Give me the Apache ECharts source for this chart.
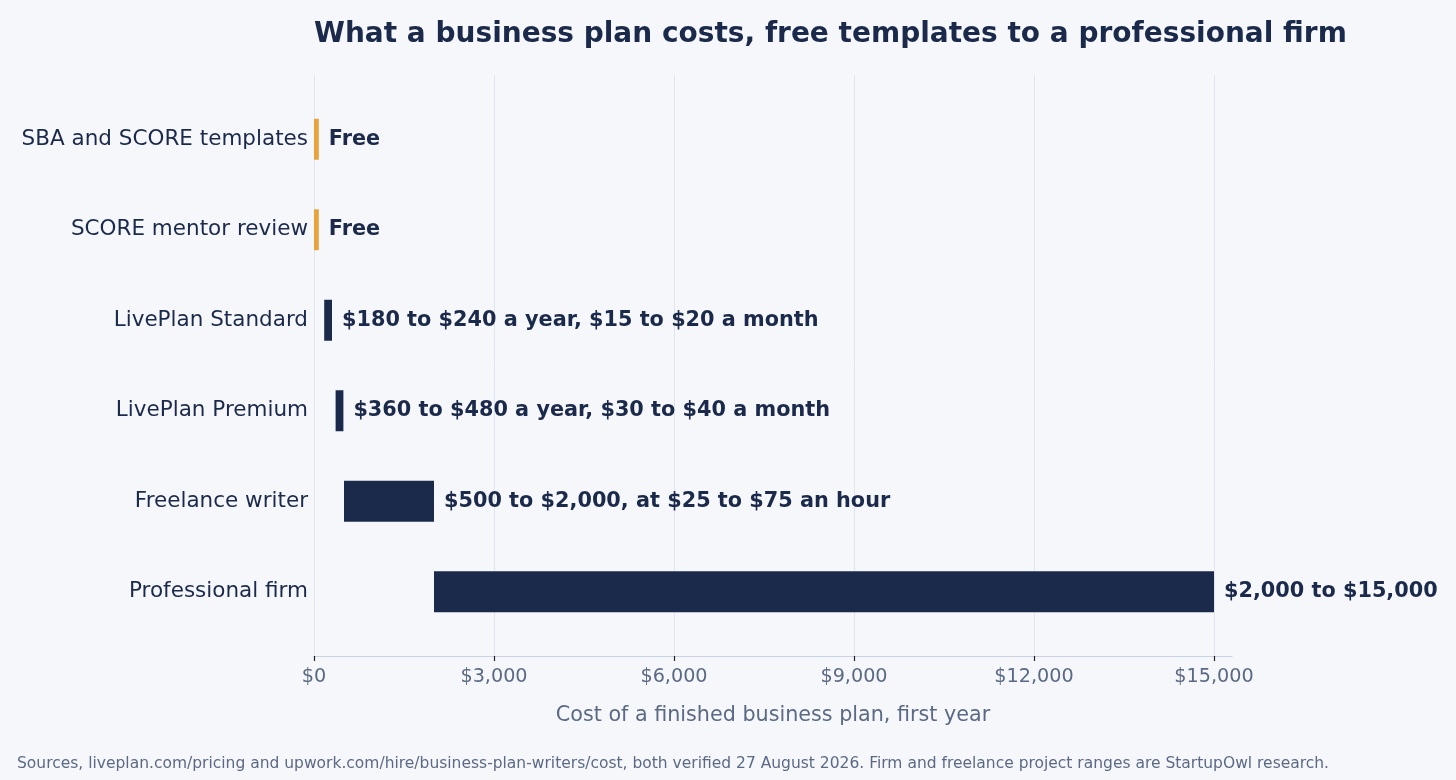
<!DOCTYPE html>
<html><head><meta charset="utf-8">
<script src="https://cdn.jsdelivr.net/npm/echarts@6/dist/echarts.min.js"></script>
<style>html,body{margin:0;padding:0;background:#F6F7FB;}#c{width:1456px;height:780px;}</style>
</head><body><div id="c"></div>
<script>
const categories = ["SBA and SCORE templates","SCORE mentor review","LivePlan Standard","LivePlan Premium","Freelance writer","Professional firm"];
const rangeStart = [0, 0, 170, 360, 500, 2000];
const rangeEnd = [80, 80, 300, 490, 2000, 15000];
const valueLabels = ["Free","Free","$180 to $240 a year, $15 to $20 a month","$360 to $480 a year, $30 to $40 a month","$500 to $2,000, at $25 to $75 an hour","$2,000 to $15,000"];
const isFree = [true, true, false, false, false, false];
const tickValues = [0, 3000, 6000, 9000, 12000, 15000];

const NAVY = '#1B2A4A', ORANGE = '#E8A33C', GRAY = '#5B6A84';
const FONT = '"DejaVu Sans", sans-serif';
const chart = echarts.init(document.getElementById('c'));
chart.setOption({
  backgroundColor: '#F6F7FB',
  animation: false,
  title: [{
    text: 'What a business plan costs, free templates to a professional firm',
    left: 309, top: 16,
    textStyle: {fontFamily: FONT, fontSize: 28, fontWeight: 'bold', color: NAVY}
  }, {
    text: 'Sources, liveplan.com/pricing and upwork.com/hire/business-plan-writers/cost, both verified 27 August 2026. Firm and freelance project ranges are StartupOwl research.',
    left: 12, top: 751,
    textStyle: {fontFamily: FONT, fontSize: 15.5, fontWeight: 'normal', color: GRAY}
  }],
  grid: [
    {left: 314, right: 224, top: 75, bottom: 124},
    {left: 314, right: 224, top: 94, bottom: 143}
  ],
  xAxis: [{
    gridIndex: 0, type: 'value', min: 0, max: 15300, interval: 3000,
    name: 'Cost of a finished business plan, first year',
    nameLocation: 'middle', nameGap: 49,
    nameTextStyle: {fontFamily: FONT, fontSize: 20.7, color: GRAY},
    axisLine: {show: true, lineStyle: {color: '#C8D2E2', width: 1.2}},
    axisTick: {show: true, length: 5, lineStyle: {color: '#222', width: 1.2}, customValues: tickValues},
    axisLabel: {fontFamily: FONT, fontSize: 19.2, color: GRAY, margin: 12, customValues: tickValues,
      formatter: v => '$' + v.toLocaleString('en-US')},
    splitLine: {show: true, lineStyle: {color: '#E1E5EF', width: 1}}
  }, {
    gridIndex: 1, type: 'value', min: 0, max: 15300, show: false
  }],
  yAxis: [{
    gridIndex: 0, type: 'value', show: false
  }, {
    gridIndex: 1, type: 'category', data: categories, inverse: true,
    axisLine: {show: false}, axisTick: {show: false}, splitLine: {show: false},
    axisLabel: {fontFamily: FONT, fontSize: 21.5, color: NAVY, margin: 6}
  }],
  series: [{
    type: 'bar', xAxisIndex: 1, yAxisIndex: 1, stack: 'r', barWidth: 41,
    itemStyle: {color: 'transparent'}, silent: true,
    data: rangeStart
  }, {
    type: 'bar', xAxisIndex: 1, yAxisIndex: 1, stack: 'r', barWidth: 41,
    data: rangeEnd.map((e, i) => ({
      value: e - rangeStart[i],
      itemStyle: {color: isFree[i] ? ORANGE : NAVY}
    })),
    label: {
      show: true, position: 'right', distance: 10,
      fontFamily: FONT, fontSize: 20.8, fontWeight: 'bold', color: NAVY,
      formatter: p => valueLabels[p.dataIndex]
    }
  }]
});
</script>
</body></html>
